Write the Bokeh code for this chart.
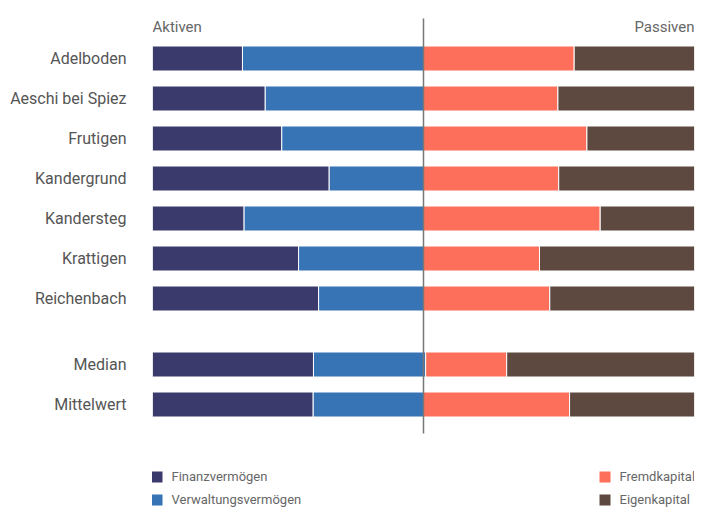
from bokeh.plotting import figure
from bokeh.models import Range1d, FixedTicker, Legend, LegendItem, Label, ColumnDataSource
from bokeh.embed import file_html
from bokeh.resources import INLINE

gemeinden = ["Adelboden", "Aeschi bei Spiez", "Frutigen", "Kandergrund",
             "Kandersteg", "Krattigen", "Reichenbach"]
kennzahlen = ["Median", "Mittelwert"]

finanzvermoegen = [33.2, 41.6, 47.7, 65.2, 33.8, 53.9, 61.3, 59.4, 59.3]
verwaltungsvermoegen = [66.8, 58.4, 52.3, 34.8, 66.2, 46.1, 38.7, 41.4, 40.7]
fremdkapital = [55.6, 49.6, 60.3, 49.9, 65.2, 42.8, 46.6, 29.9, 53.9]
eigenkapital = [44.4, 50.4, 39.7, 50.1, 34.8, 57.2, 53.4, 69.3, 46.1]

names = gemeinden + kennzahlen
GAP = 0.65
ys = [float(i) for i in range(len(gemeinden))] + \
     [len(gemeinden) + GAP + k for k in range(len(kennzahlen))]

src = ColumnDataSource(dict(
    y=ys, name=names,
    fin=finanzvermoegen, verw=verwaltungsvermoegen,
    fremd=fremdkapital, eigen=eigenkapital,
))

colors = ["#3a3a6c", "#3774b6", "#fd6f5a", "#5d4940"]

p = figure(width=720, height=517, output_backend="svg", toolbar_location=None,
           x_range=Range1d(0, 200), y_range=Range1d(ys[0] + 11.475, ys[0] - 1.45),
           min_border_left=152, min_border_right=26, min_border_top=0, min_border_bottom=0)
p.xaxis.visible = False
p.xgrid.visible = False
p.ygrid.visible = False
p.outline_line_color = None
p.background_fill_color = "white"
p.border_fill_color = "white"

rs = p.hbar_stack(["fin", "verw", "fremd", "eigen"], y="y", height=0.625,
                  color=colors, line_color="white", line_width=1, source=src)

# centre line between Aktiven and Passiven
p.segment(x0=[100], x1=[100], y0=[ys[0] - 1.0], y1=[ys[-1] + 0.725],
          line_color="#777777", line_width=1.5)

ax = p.yaxis[0]
ax.ticker = FixedTicker(ticks=ys)
ax.major_label_overrides = {y: n for y, n in zip(ys, names)}
ax.axis_line_color = None
ax.major_tick_line_color = None
ax.minor_tick_line_color = None
ax.major_tick_out = 0
ax.major_tick_in = 0
ax.major_label_standoff = 26
ax.major_label_text_font = "Roboto"
ax.major_label_text_font_size = "16px"
ax.major_label_text_color = "#555555"

for txt, xx, al in [("Aktiven", 0, "left"), ("Passiven", 200, "right")]:
    p.add_layout(Label(x=xx, y=ys[0] - 0.78, text=txt, text_align=al,
                       text_baseline="middle", text_font="Roboto",
                       text_font_size="15px", text_color="#666666"))

def mk_legend(items, loc):
    lg = Legend(items=items, location=loc, orientation="vertical",
                glyph_width=15, glyph_height=15, label_height=15,
                spacing=8, padding=0, margin=0, label_standoff=8,
                border_line_color=None, background_fill_alpha=0,
                label_text_font="Roboto", label_text_font_size="13px",
                label_text_color="#666666")
    p.add_layout(lg)

mk_legend([LegendItem(label="Finanzvermögen", renderers=[rs[0]]),
           LegendItem(label="Verwaltungsvermögen", renderers=[rs[1]])], (-3.5, 10))
mk_legend([LegendItem(label="Fremdkapital", renderers=[rs[2]]),
           LegendItem(label="Eigenkapital", renderers=[rs[3]])], (444.5, 10))

open("out.html", "w").write(file_html(p, INLINE))
